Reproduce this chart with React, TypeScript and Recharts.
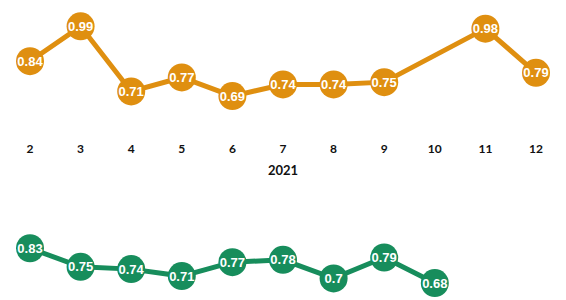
import React from "react";
import { LineChart, Line, XAxis, YAxis, LabelList } from "recharts";

const months = ["2", "3", "4", "5", "6", "7", "8", "9", "10", "11", "12"];
const orangeValues = [0.84, 0.99, 0.71, 0.77, 0.69, 0.74, 0.74, 0.75, null, 0.98, 0.79];
const greenValues = [0.83, 0.75, 0.74, 0.71, 0.77, 0.78, 0.7, 0.79, 0.68, null, null];

const ORANGE = "#DF8F10";
const GREEN = "#178D5C";

const data = months.map((m, i) => ({
  month: m,
  orange: orangeValues[i],
  green: greenValues[i],
}));

const makeDot = (color) => (props) => {
  const { cx, cy, value, index } = props;
  if (value == null || cx == null || cy == null) return <g key={index} />;
  return <circle key={index} cx={cx} cy={cy} r={14} fill={color} stroke="none" />;
};

const labelStyle = {
  fill: "#fff",
  fontFamily: "'Liberation Sans', Arial, sans-serif",
  fontWeight: 700,
  fontSize: 13,
};

const App = () => {
  return (
    <div
      style={{
        position: "absolute",
        left: 0,
        top: 0,
        width: 566,
        height: 300,
        overflow: "hidden",
        background: "#fff",
      }}
    >
      <div style={{ position: "absolute", left: 0, top: 0 }}>
        <LineChart width={566} height={180} data={data} margin={{ top: 24, right: 30, bottom: 3, left: 30 }}>
          <XAxis
            dataKey="month"
            axisLine={false}
            tickLine={false}
            tickSize={0}
            tickMargin={27}
            height={60}
            interval={0}
            tick={{ fill: "#111", fontFamily: "Lato", fontSize: 12, fontWeight: 700 }}
            label={{
              value: "2021",
              position: "insideBottom",
              offset: 2,
              fill: "#111",
              fontFamily: "Lato",
              fontSize: 13,
              fontWeight: 700,
            }}
          />
          <YAxis hide domain={[0.6, 1.0]} />
          <Line
            dataKey="orange"
            stroke={ORANGE}
            strokeWidth={5}
            connectNulls
            dot={makeDot(ORANGE)}
            activeDot={false}
            isAnimationActive={false}
          >
            <LabelList dataKey="orange" position="center" style={labelStyle} />
          </Line>
        </LineChart>
      </div>
      <div style={{ position: "absolute", left: 0, top: 210 }}>
        <LineChart width={566} height={90} data={data} margin={{ top: 22, right: 30, bottom: 10, left: 30 }}>
          <XAxis dataKey="month" hide />
          <YAxis hide domain={[0.65, 0.9]} />
          <Line
            dataKey="green"
            stroke={GREEN}
            strokeWidth={5}
            dot={makeDot(GREEN)}
            activeDot={false}
            isAnimationActive={false}
          >
            <LabelList dataKey="green" position="center" style={labelStyle} />
          </Line>
        </LineChart>
      </div>
    </div>
  );
};

export default App;
